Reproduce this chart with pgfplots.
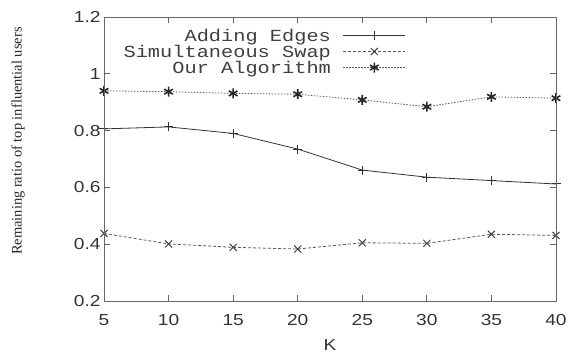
\documentclass[border=0pt]{standalone}
\usepackage{fontspec}
\setmainfont[FakeStretch=1.2]{Liberation Sans}
\newfontfamily\monoface[FakeStretch=1.2]{Liberation Mono}
\newfontfamily\serifface{Liberation Serif}
\usepackage{pgfplots}
\pgfplotsset{compat=1.18}
\usetikzlibrary{calc}
\begin{document}
\begin{tikzpicture}
\begin{axis}[
  name=ax,
  scale only axis,
  width=452bp, height=284bp,
  xmin=5, xmax=40, ymin=0.2, ymax=1.2,
  xtick={5,10,...,40},
  ytick={0.2,0.4,...,1.2},
  yticklabel style={/pgf/number format/fixed, /pgf/number format/precision=1, xshift=0bp},
  xticklabel style={yshift=-10bp},
  /pgf/number format/assume math mode=true,
  tick label style={font=\fontsize{16}{18}\selectfont, text=black!80},
  tick align=inside,
  major tick length=6bp,
  axis line style={black!60, line width=0.9pt},
  tick style={black!60, line width=0.9pt},
  xlabel={K},
  xlabel style={font=\fontsize{16}{18}\selectfont, text=black!80, at={(axis description cs:0.5,-0.155)}, anchor=center},
  ylabel={Remaining ratio of top influential users},
  ylabel style={font=\serifface\fontsize{14.5}{16}\selectfont, text=black!85, at={(axis description cs:-0.190,0.563)}, anchor=center},
  legend cell align=right,
  legend plot pos=right,
  legend style={draw=none, fill=none, at={(rel axis cs:0.668,0.953)}, anchor=north east,
    font=\monoface\fontsize{17}{17}\selectfont, text=black!75, inner sep=0pt, row sep=0pt, column sep=12bp,
    nodes={inner sep=0pt, text height=10.5bp, text depth=5.5bp}},
  legend image code/.code={
    \draw[#1, mark=none] (0bp,3bp) -- (62bp,3bp);
    \draw[#1, only marks] plot coordinates {(31bp,3bp)};
  },
]
\addplot[black!80, line width=0.8pt, mark=+, mark size=4.5bp, mark options={solid, line width=1pt}] coordinates {
(5,0.806) (10,0.813) (15,0.790) (20,0.735) (25,0.661) (30,0.636) (35,0.624) (40,0.612)};
\addlegendentry{Adding Edges}
\addplot[black!65, line width=0.8pt, dash pattern=on 3bp off 2bp, mark=x, mark size=5bp, mark options={solid, line width=1pt, black!75}] coordinates {
(5,0.438) (10,0.401) (15,0.389) (20,0.383) (25,0.405) (30,0.403) (35,0.435) (40,0.431)};
\addlegendentry{Simultaneous Swap}
\addplot[black!65, line width=0.8pt, dash pattern=on 1.5bp off 1.5bp, mark=asterisk, mark size=5bp, mark options={solid, line width=1.6pt, black!85}] coordinates {
(5,0.940) (10,0.937) (15,0.931) (20,0.928) (25,0.908) (30,0.884) (35,0.919) (40,0.914)};
\addlegendentry{Our Algorithm}
\end{axis}
% frame and inward ticks drawn as a node border with a path picture
\node[draw=black!60, line width=0.9pt, inner sep=0pt, outer sep=0pt,
      minimum width=452bp, minimum height=284bp, anchor=south west,
      path picture={
        \foreach \i in {1,...,6} {
          \draw[black!60, line width=0.9pt] ($(path picture bounding box.south west)!\i/7!(path picture bounding box.south east)$) -- ++(0,6bp);
          \draw[black!60, line width=0.9pt] ($(path picture bounding box.north west)!\i/7!(path picture bounding box.north east)$) -- ++(0,-6bp);
        }
        \foreach \j in {1,...,4} {
          \draw[black!60, line width=0.9pt] ($(path picture bounding box.south west)!\j/5!(path picture bounding box.north west)$) -- ++(6bp,0);
          \draw[black!60, line width=0.9pt] ($(path picture bounding box.south east)!\j/5!(path picture bounding box.north east)$) -- ++(-6bp,0);
        }
      }] at (ax.south west) {};
\pgfresetboundingbox
\path[use as bounding box] (-104bp,-52bp) rectangle (466bp,301bp);
\end{tikzpicture}
\end{document}
